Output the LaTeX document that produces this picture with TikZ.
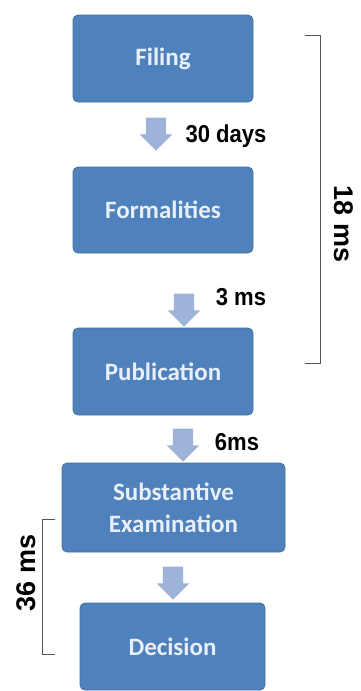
\documentclass[tikz,border=0pt]{standalone}
\usepackage{fontspec}
\usetikzlibrary{shapes.arrows}
\newfontfamily\stagefont{Carlito}
\newfontfamily\labelfont{Liberation Sans}
\newfontfamily\narrowfont{Liberation Sans}[FakeStretch=0.9]
\definecolor{stageblue}{HTML}{4F81BD}
\definecolor{stageedge}{HTML}{41719C}
\definecolor{stagetext}{HTML}{E8EFF8}
\definecolor{arrowblue}{HTML}{9DB3D8}
\definecolor{bracketgray}{HTML}{555555}

\begin{document}
\begin{tikzpicture}
[x=1pt,y=-1pt,
 stage/.style={rectangle,rounded corners=5pt,draw=stageedge,fill=stageblue,thick,
   text=stagetext,inner sep=0pt,align=center,
   font=\stagefont\bfseries\fontsize{25}{32}\selectfont},
 downarrow/.style={single arrow,fill=arrowblue,draw=none,inner sep=10pt,
   single arrow head extend=6pt,minimum height=33pt,shape border rotate=270},
 gap/.style={font=\narrowfont\bfseries\fontsize{24.5}{28}\selectfont},
 span/.style={font=\labelfont\bfseries\fontsize{27}{30}\selectfont},
 bracket/.style={draw=bracketgray,line width=0.9pt}]
\useasboundingbox (0,0) rectangle (360,691);
\node[stage,minimum width=180pt,minimum height=87pt] (filing)  at (163, 58.5) {Filing};
\node[stage,minimum width=180pt,minimum height=86pt] (formal)  at (163,210)   {Formalities};
\node[stage,minimum width=180pt,minimum height=87pt] (publish) at (163,371.5) {Publication};
\node[stage,minimum width=223pt,minimum height=89pt] (subst)   at (173.5,507.5) {Substantive\\Examination};
\node[stage,minimum width=185pt,minimum height=87pt] (decide)  at (172.5,646.5) {Decision};
\node[downarrow] (arr1) at (156,129) {};
\node[downarrow] (arr2) at (184,305) {};
\node[downarrow] (arr3) at (183,440) {};
\node[downarrow] (arr4) at (173,578) {};
\node[gap] (days30) at (226,136) {30 days};
\node[gap] (ms3)    at (241,297) {3 ms};
\node[gap] (ms6)    at (237,442) {6ms};
\node[span,rotate=-90] (ms18) at (344,224) {18 ms};
\node[span,rotate=90]  (ms36) at (26,573)  {36 ms};
\coordinate (rtop) at (305,35);
\coordinate (rbot) at (305,363);
\coordinate (ltop) at (55,519);
\coordinate (lbot) at (55,654);
\draw[bracket] (rtop) -- ++(15,0) |- (rbot);
\draw[bracket] (ltop) -- ++(-13,0) |- (lbot);
\end{tikzpicture}
\end{document}
